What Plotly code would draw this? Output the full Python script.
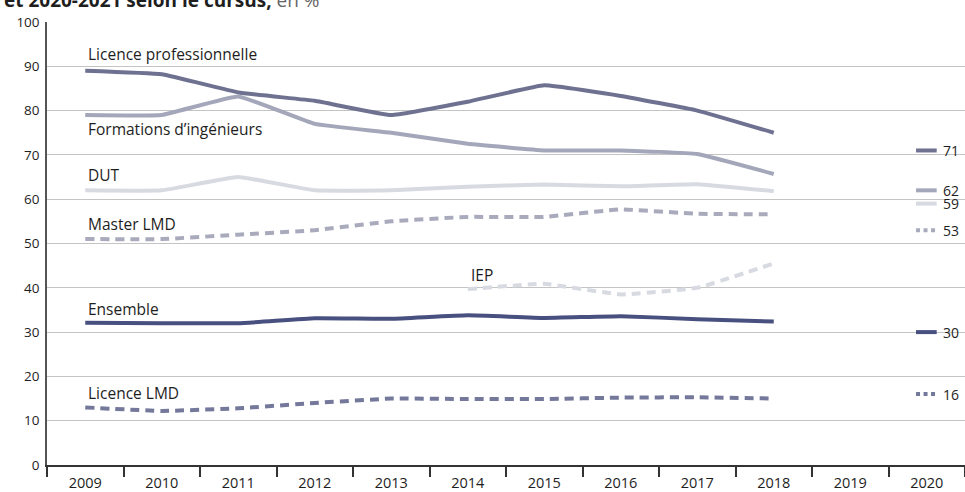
import plotly.graph_objects as go

years = ["2009", "2010", "2011", "2012", "2013", "2014", "2015", "2016", "2017", "2018", "2019", "2020"]
data_years = ["2009", "2010", "2011", "2012", "2013", "2014", "2015", "2016", "2017", "2018"]
iep_years = ["2014", "2015", "2016", "2017", "2018"]

licence_pro = [89, 88.2, 84.1, 82.2, 79, 82, 85.7, 83.3, 80, 75]
ingenieurs = [79, 79, 83.2, 77, 75, 72.5, 71, 71, 70.2, 65.7]
dut = [62, 62, 65, 62, 62, 62.8, 63.3, 62.9, 63.4, 61.8]
master_lmd = [51, 51, 52, 53, 55, 56, 56, 57.7, 56.7, 56.6]
iep = [39.7, 40.9, 38.5, 40, 45.5]
ensemble = [32.1, 32, 32, 33.1, 33, 33.8, 33.2, 33.6, 32.9, 32.4]
licence_lmd = [13, 12.2, 12.8, 14, 15, 14.9, 14.9, 15.2, 15.3, 15.0]

# 2020-2021 values (shown at right)
final_year = "2020"
final_labels = ["Licence professionnelle", "Formations d'ingénieurs", "DUT", "Master LMD", "Ensemble", "Licence LMD"]
final_values = [71, 62, 59, 53, 30, 16]

series = [
    ("Licence professionnelle", data_years, licence_pro, "#6e7190", "solid", 92.7),
    ("Formations d’ingénieurs", data_years, ingenieurs, "#a4a7ba", "solid", 75.8),
    ("DUT", data_years, dut, "#d8dae2", "solid", 65.5),
    ("Master LMD", data_years, master_lmd, "#a9abbd", "9px,6px", 54.3),
    ("IEP", iep_years, iep, "#d8dae2", "9px,6px", 42.8),
    ("Ensemble", data_years, ensemble, "#47507f", "solid", 35.2),
    ("Licence LMD", data_years, licence_lmd, "#74789a", "9px,6px", 16.2),
]
final_styles = {
    "Licence professionnelle": ("#6e7190", "solid"),
    "Formations d'ingénieurs": ("#a4a7ba", "solid"),
    "DUT": ("#d8dae2", "solid"),
    "Master LMD": ("#a9abbd", "4px,3.5px"),
    "Ensemble": ("#47507f", "solid"),
    "Licence LMD": ("#74789a", "4px,3.5px"),
}

FONT = "Open Sans"
fig = go.Figure()
annotations = []
for name, xs, ys, color, dash, label_y in series:
    fig.add_trace(go.Scatter(
        x=xs, y=ys, mode="lines", name=name,
        line=dict(color=color, width=4, dash=dash, shape="spline", smoothing=0.3),
        showlegend=False, hoverinfo="x+y+name",
    ))
    annotations.append(dict(
        x=years.index(xs[0]) + 0.01, y=label_y, xref="x", yref="y", text=name,
        showarrow=False, xanchor="left", yanchor="middle",
        font=dict(family=FONT, size=15.5, color="#1e1e1e"),
    ))

shapes = []
idx = years.index(final_year)
for name, val in zip(final_labels, final_values):
    color, dash = final_styles[name]
    shapes.append(dict(type="line", xref="x", yref="y",
                       x0=idx - 0.14, x1=idx + 0.13, y0=val, y1=val,
                       line=dict(color=color, width=4, dash=dash)))
    annotations.append(dict(
        x=idx + 0.19, y=val, xref="x", yref="y", text=str(val),
        showarrow=False, xanchor="left", yanchor="middle",
        font=dict(family=FONT, size=14, color="#1e1e1e"),
    ))

annotations.append(dict(
    x=(2 - 47) / 918, y=1 + (22 - 15) / 445, xref="paper", yref="paper",
    text="<b>et 2020-2021 selon le cursus,</b> <span style='color:#666666'>en %</span>",
    showarrow=False, xanchor="left", yanchor="bottom",
    font=dict(family=FONT, size=19, color="#1e1e1e"),
))

fig.update_layout(
    width=965, height=492,
    margin=dict(l=47, r=0, t=22, b=25),
    paper_bgcolor="white", plot_bgcolor="white",
    shapes=shapes, annotations=annotations,
    font=dict(family=FONT, color="#1e1e1e"),
    xaxis=dict(
        type="category", categoryorder="array", categoryarray=years,
        tickvals=years, range=[-0.5, 11.5], tickson="boundaries",
        ticks="outside", ticklen=10, tickwidth=1.5, tickcolor="#333333",
        showgrid=False, showline=True, linecolor="#333333", linewidth=2,
        tickfont=dict(family=FONT, size=14.5, color="#1e1e1e"),
        ticklabelstandoff=4,
        zeroline=False, fixedrange=True,
    ),
    yaxis=dict(
        range=[0, 100], tickvals=list(range(0, 101, 10)),
        showgrid=True, gridcolor="#c4c4c4", gridwidth=1,
        showline=True, linecolor="#555555", linewidth=1.5,
        ticks="", ticklabelstandoff=3,
        tickfont=dict(family=FONT, size=13.5, color="#1e1e1e"),
        zeroline=False, fixedrange=True,
    ),
)

fig.write_html(
    "out.html",
    config={"displayModeBar": False},
    post_script="document.body.style.margin='0';document.body.style.overflow='hidden';",
)
